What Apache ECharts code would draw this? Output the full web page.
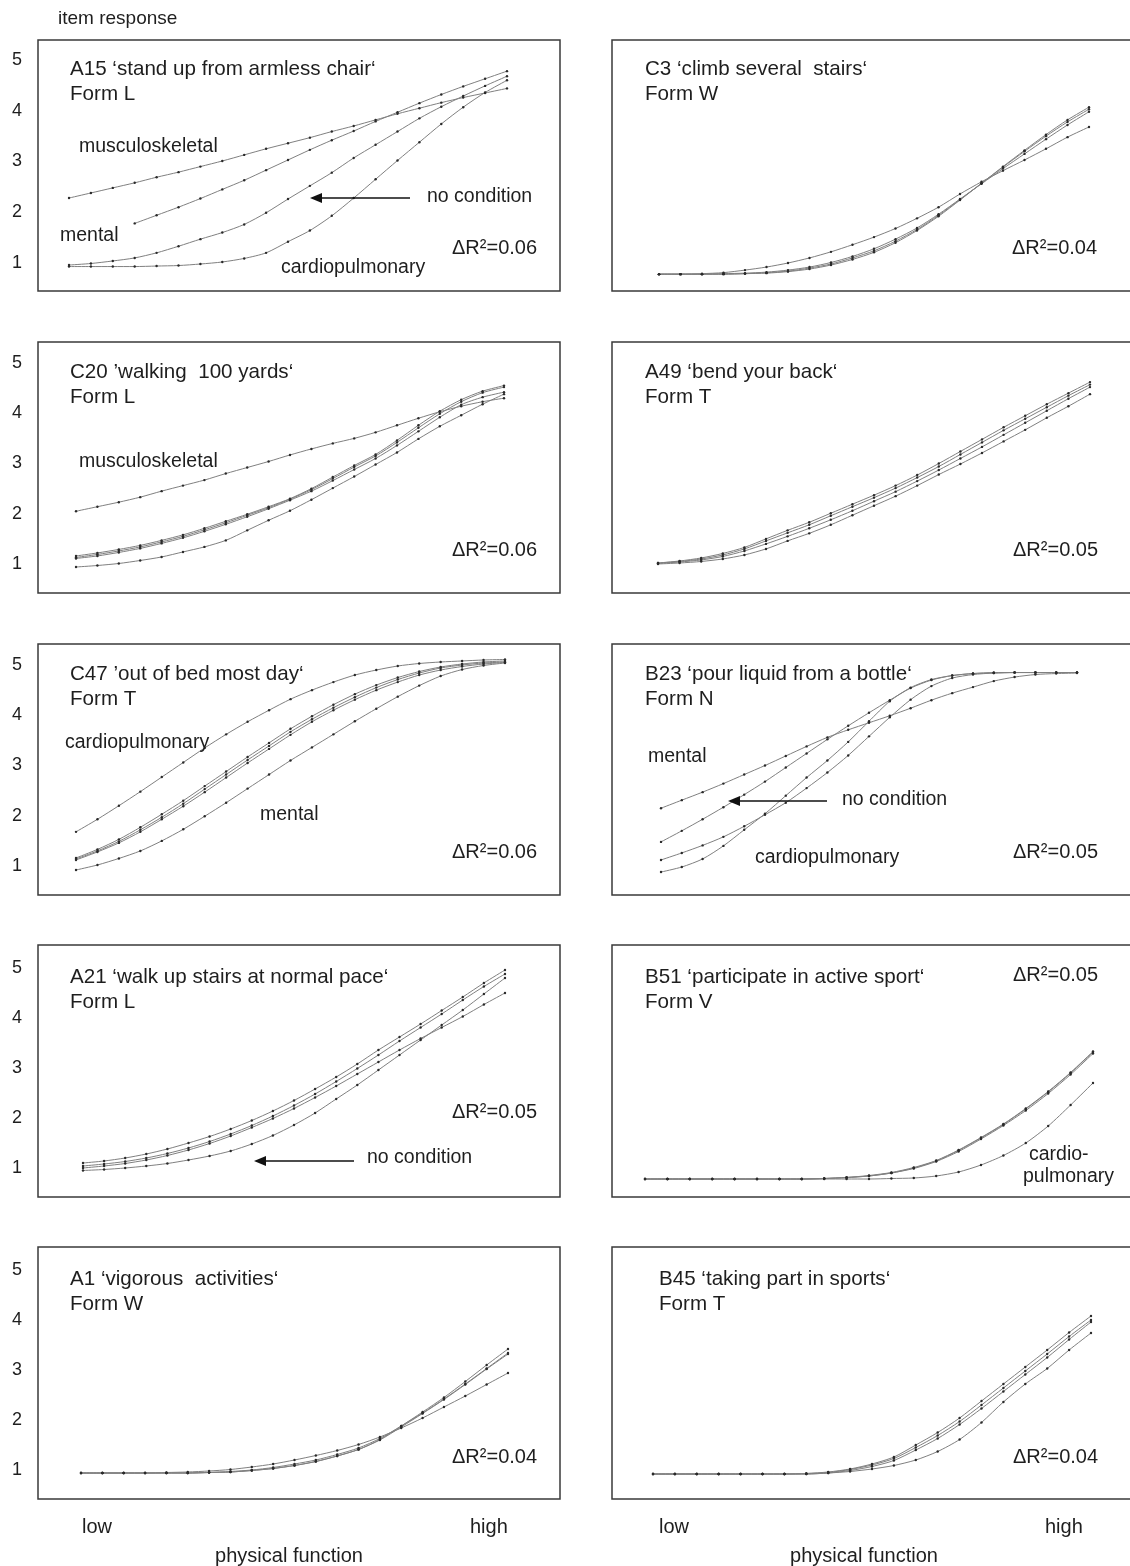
<!DOCTYPE html>
<html>
<head>
<meta charset="utf-8">
<script src="https://cdn.jsdelivr.net/npm/echarts@6/dist/echarts.min.js"></script>
<style>
html,body{margin:0;padding:0;background:#fff;}
#c{width:1130px;height:1566px;}
</style>
</head>
<body>
<div id="c"></div>
<script>
// ---------- DATA ----------
const X = [0,1,2,3,4,5,6,7,8,9,10,11,12,13,14,15,16,17,18,19,20];
const Y_TICKS = [1,2,3,4,5];
const X_LABELS = ["low","high"];
const X_TITLE = "physical function";
const Y_TITLE = "item response";

// A15 'stand up from armless chair' (Form L)
const A15_musculoskeletal = [2.28,2.38,2.48,2.58,2.69,2.79,2.90,3.01,3.13,3.25,3.36,3.47,3.59,3.70,3.82,3.94,4.05,4.16,4.26,4.35,4.44];
const A15_mental          = [null,null,null,1.78,1.94,2.10,2.27,2.45,2.63,2.83,3.03,3.23,3.42,3.60,3.79,3.97,4.15,4.32,4.48,4.63,4.78];
const A15_noCondition     = [0.96,0.99,1.04,1.10,1.20,1.33,1.47,1.60,1.76,1.99,2.26,2.52,2.78,3.07,3.33,3.59,3.85,4.08,4.29,4.49,4.68];
const A15_cardiopulmonary = [0.93,0.93,0.93,0.93,0.94,0.95,0.98,1.02,1.09,1.20,1.42,1.64,1.93,2.28,2.65,3.02,3.38,3.74,4.07,4.36,4.60];

// C3 'climb several stairs' (Form W)
const C3_a = [0.78,0.78,0.79,0.81,0.86,0.92,1.00,1.10,1.22,1.36,1.51,1.68,1.88,2.10,2.36,2.60,2.82,3.03,3.25,3.48,3.68];
const C3_b = [0.78,0.78,0.78,0.78,0.79,0.80,0.83,0.88,0.96,1.07,1.21,1.40,1.64,1.92,2.24,2.57,2.90,3.22,3.53,3.82,4.07];
const C3_c = [0.78,0.78,0.78,0.79,0.80,0.82,0.86,0.92,1.01,1.13,1.28,1.47,1.69,1.96,2.26,2.56,2.86,3.15,3.44,3.72,3.98];
const C3_d = [0.78,0.78,0.78,0.78,0.79,0.81,0.84,0.90,0.98,1.10,1.24,1.43,1.66,1.94,2.25,2.57,2.89,3.20,3.50,3.78,4.03];

// C20 'walking 100 yards' (Form L)
const C20_musculoskeletal = [2.05,2.14,2.23,2.33,2.45,2.56,2.67,2.80,2.92,3.04,3.17,3.29,3.40,3.50,3.62,3.76,3.90,4.03,4.14,4.23,4.30];
const C20_b1  = [1.16,1.22,1.29,1.37,1.47,1.58,1.71,1.85,1.99,2.14,2.30,2.50,2.73,2.96,3.18,3.46,3.76,4.04,4.27,4.44,4.55];
const C20_b2  = [1.13,1.19,1.26,1.34,1.44,1.55,1.68,1.82,1.97,2.12,2.29,2.48,2.70,2.93,3.15,3.42,3.71,3.99,4.23,4.41,4.52];
const C20_b3  = [1.11,1.16,1.23,1.31,1.41,1.52,1.65,1.79,1.94,2.10,2.27,2.45,2.66,2.88,3.10,3.36,3.64,3.92,4.17,4.32,4.42];
const C20_low = [0.94,0.97,1.01,1.07,1.14,1.24,1.34,1.47,1.67,1.87,2.06,2.28,2.51,2.74,2.98,3.22,3.49,3.74,3.96,4.18,4.38];

// A49 'bend your back' (Form T)
const A49_a = [1.02,1.06,1.12,1.21,1.33,1.50,1.67,1.83,2.01,2.19,2.37,2.56,2.77,3.00,3.24,3.48,3.72,3.95,4.18,4.40,4.62];
const A49_b = [1.02,1.05,1.10,1.18,1.30,1.46,1.62,1.78,1.96,2.14,2.32,2.51,2.72,2.94,3.18,3.42,3.66,3.89,4.12,4.35,4.57];
const A49_c = [1.01,1.04,1.08,1.15,1.26,1.40,1.55,1.71,1.88,2.06,2.25,2.44,2.65,2.87,3.10,3.33,3.57,3.81,4.05,4.29,4.52];
const A49_d = [1.00,1.02,1.05,1.10,1.18,1.30,1.46,1.61,1.78,1.97,2.16,2.35,2.56,2.78,2.99,3.21,3.44,3.67,3.91,4.14,4.38];

// C47 'out of bed most day' (Form T)
const C47_cardiopulmonary = [1.68,1.93,2.20,2.48,2.77,3.06,3.35,3.62,3.87,4.10,4.32,4.50,4.66,4.80,4.90,4.98,5.03,5.06,5.08,5.10,5.11];
const C47_b1     = [1.16,1.33,1.53,1.77,2.03,2.30,2.59,2.88,3.17,3.45,3.73,3.98,4.21,4.42,4.60,4.75,4.87,4.96,5.02,5.06,5.08];
const C47_b2     = [1.14,1.30,1.49,1.72,1.97,2.24,2.53,2.82,3.11,3.39,3.67,3.92,4.15,4.36,4.55,4.71,4.84,4.94,5.00,5.04,5.06];
const C47_b3     = [1.12,1.28,1.46,1.68,1.93,2.19,2.47,2.76,3.05,3.33,3.61,3.87,4.10,4.31,4.50,4.66,4.80,4.90,4.97,5.02,5.05];
const C47_mental = [0.92,1.02,1.15,1.30,1.50,1.73,1.99,2.26,2.54,2.82,3.10,3.36,3.62,3.88,4.13,4.37,4.59,4.78,4.91,4.99,5.04];

// B23 'pour liquid from a bottle' (Form N)
const B23_mental          = [2.15,2.31,2.47,2.64,2.82,3.00,3.19,3.38,3.56,3.71,3.85,3.99,4.14,4.30,4.44,4.56,4.68,4.76,4.81,4.83,4.84];
const B23_noCondition     = [1.48,1.70,1.93,2.17,2.42,2.68,2.96,3.24,3.52,3.79,4.05,4.30,4.54,4.70,4.79,4.83,4.85,4.85,4.85,4.85,4.85];
const B23_c               = [1.12,1.26,1.41,1.58,1.79,2.02,2.26,2.55,2.86,3.20,3.58,3.96,4.31,4.58,4.74,4.81,4.84,4.85,4.85,4.85,4.85];
const B23_cardiopulmonary = [0.88,0.98,1.14,1.40,1.72,2.04,2.40,2.76,3.10,3.47,3.88,4.28,4.55,4.71,4.79,4.83,4.84,4.85,4.85,4.85,4.85];

// A21 'walk up stairs at normal pace' (Form L)
const A21_t1 = [1.10,1.14,1.20,1.28,1.38,1.50,1.63,1.78,1.95,2.14,2.35,2.58,2.82,3.08,3.36,3.62,3.88,4.15,4.42,4.70,4.96];
const A21_t2 = [1.04,1.08,1.13,1.20,1.29,1.40,1.53,1.68,1.85,2.04,2.25,2.48,2.73,2.99,3.26,3.54,3.81,4.08,4.36,4.63,4.88];
const A21_t3 = [1.00,1.04,1.09,1.16,1.25,1.36,1.49,1.64,1.81,1.99,2.19,2.41,2.64,2.88,3.12,3.36,3.59,3.81,4.03,4.27,4.50];
const A21_noCondition = [0.95,0.97,1.00,1.04,1.09,1.16,1.24,1.34,1.48,1.65,1.86,2.10,2.38,2.66,2.96,3.26,3.56,3.86,4.16,4.48,4.80];

// B51 'participate in active sport' (Form V)
const B51_a = [0.78,0.78,0.78,0.78,0.78,0.78,0.78,0.78,0.79,0.81,0.84,0.90,1.00,1.14,1.35,1.60,1.87,2.18,2.52,2.90,3.32];
const B51_b = [0.78,0.78,0.78,0.78,0.78,0.78,0.78,0.78,0.79,0.81,0.84,0.90,0.99,1.13,1.33,1.58,1.85,2.15,2.49,2.87,3.29];
const B51_c = [0.78,0.78,0.78,0.78,0.78,0.78,0.78,0.78,0.79,0.81,0.85,0.91,1.01,1.15,1.36,1.61,1.88,2.19,2.53,2.91,3.33];
const B51_cardiopulmonary = [0.78,0.78,0.78,0.78,0.78,0.78,0.78,0.78,0.78,0.78,0.78,0.79,0.80,0.84,0.92,1.06,1.25,1.50,1.84,2.26,2.70];

// A1 'vigorous activities' (Form W)
const A1_early = [0.94,0.94,0.94,0.94,0.95,0.96,0.98,1.01,1.06,1.12,1.20,1.29,1.39,1.51,1.66,1.84,2.04,2.26,2.48,2.71,2.94];
const A1_l1    = [0.94,0.94,0.94,0.94,0.94,0.94,0.95,0.96,0.99,1.03,1.09,1.17,1.28,1.41,1.61,1.88,2.16,2.45,2.77,3.10,3.42];
const A1_l2    = [0.94,0.94,0.94,0.94,0.94,0.94,0.95,0.96,0.99,1.03,1.09,1.17,1.28,1.41,1.60,1.86,2.13,2.41,2.71,3.02,3.32];
const A1_l3    = [0.94,0.94,0.94,0.94,0.94,0.94,0.95,0.97,1.00,1.05,1.12,1.20,1.31,1.44,1.63,1.88,2.14,2.42,2.72,3.03,3.34];

// B45 'taking part in sports' (Form T)
const B45_a = [0.92,0.92,0.92,0.92,0.92,0.92,0.92,0.93,0.96,1.02,1.12,1.26,1.50,1.75,2.04,2.38,2.72,3.06,3.40,3.75,4.08];
const B45_b = [0.92,0.92,0.92,0.92,0.92,0.92,0.92,0.93,0.95,1.01,1.10,1.23,1.45,1.69,1.97,2.30,2.64,2.98,3.32,3.67,4.00];
const B45_c = [0.92,0.92,0.92,0.92,0.92,0.92,0.92,0.92,0.94,0.99,1.07,1.19,1.40,1.63,1.91,2.23,2.57,2.91,3.25,3.61,3.96];
const B45_d = [0.92,0.92,0.92,0.92,0.92,0.92,0.92,0.92,0.94,0.97,1.02,1.09,1.20,1.37,1.61,1.95,2.36,2.72,3.03,3.40,3.74];

const PANEL_TITLES = [
  "A15 \u2018stand up from armless chair\u2018",
  "C3 \u2018climb several  stairs\u2018",
  "C20 \u2019walking  100 yards\u2018",
  "A49 \u2018bend your back\u2018",
  "C47 \u2019out of bed most day\u2018",
  "B23 \u2018pour liquid from a bottle\u2018",
  "A21 \u2018walk up stairs at normal pace\u2018",
  "B51 \u2018participate in active sport\u2018",
  "A1 \u2018vigorous  activities\u2018",
  "B45 \u2018taking part in sports\u2018"
];
const PANEL_FORMS = ["Form L","Form W","Form L","Form T","Form T","Form N","Form L","Form V","Form W","Form T"];
const PANEL_DR = ["\u0394R\u00b2=0.06","\u0394R\u00b2=0.04","\u0394R\u00b2=0.06","\u0394R\u00b2=0.05","\u0394R\u00b2=0.06",
                  "\u0394R\u00b2=0.05","\u0394R\u00b2=0.05","\u0394R\u00b2=0.05","\u0394R\u00b2=0.04","\u0394R\u00b2=0.04"];
const PANEL_SERIES = [
  [A15_musculoskeletal, A15_mental, A15_noCondition, A15_cardiopulmonary],
  [C3_a, C3_b, C3_c, C3_d],
  [C20_musculoskeletal, C20_b1, C20_b2, C20_b3, C20_low],
  [A49_a, A49_b, A49_c, A49_d],
  [C47_cardiopulmonary, C47_b1, C47_b2, C47_b3, C47_mental],
  [B23_mental, B23_noCondition, B23_c, B23_cardiopulmonary],
  [A21_t1, A21_t2, A21_t3, A21_noCondition],
  [B51_a, B51_b, B51_c, B51_cardiopulmonary],
  [A1_early, A1_l1, A1_l2, A1_l3],
  [B45_a, B45_b, B45_c, B45_d]
];

// ---------- LAYOUT ----------
const FONT = "'Liberation Sans', Arial, sans-serif";
const TXT = '#1e1e1e';
const ROW_Y   = [[60,263],[363,564],[665,866],[968,1168],[1270,1470]];
const ROW_BOX = [[40,291],[342,593],[644,895],[945,1197],[1247,1499]];
const COL_BOX = [[38,560],[612,1150]];
const PANEL_XPX = [[69,507],[659,1089],[76,504],[658,1090],[76,505],[661,1077],[83,505],[645,1093],[81,508],[653,1091]];
const TITLE_X = [70,645,70,645,70,645,70,645,70,659];

// annotation labels: [text, x(left), y(center)]
const NOTES = [
  ["musculoskeletal",79,147],["mental",60,236],["no condition",427,197],["cardiopulmonary",281,268],
  ["musculoskeletal",79,462],
  ["cardiopulmonary",65,743],["mental",260,815],
  ["mental",648,757],["no condition",842,800],["cardiopulmonary",755,858],
  ["no condition",367,1158],
  ["cardio-",1029,1155],["pulmonary",1023,1177]
];
// arrows: [xFrom, xTip, y]
const ARROWS = [[410,310,198],[827,728,801],[354,254,1161]];
// delta R^2 positions
const DR_POS = [[452,248],[1012,248],[452,550],[1013,550],[452,852],[1013,852],[452,1112],[1013,975],[452,1457],[1013,1457]];

const chart = echarts.init(document.getElementById('c'), null, {renderer:'canvas'});
const grids=[], xAxes=[], yAxes=[], series=[], graphics=[];

for (let p=0; p<10; p++) {
  const r = Math.floor(p/2), c = p%2;
  const xp = PANEL_XPX[p];
  grids.push({left: xp[0], width: xp[1]-xp[0], top: ROW_Y[r][0], height: ROW_Y[r][1]-ROW_Y[r][0], containLabel:false});
  xAxes.push({gridIndex:p, type:'value', min:X[0], max:X[X.length-1], show:false});
  yAxes.push({gridIndex:p, type:'value', min:Y_TICKS[0], max:Y_TICKS[Y_TICKS.length-1], interval:1,
    axisLine:{show:false}, axisTick:{show:false}, splitLine:{show:false},
    axisLabel:{show:c===0, margin: xp[0]-22, fontSize:18, color:TXT, fontFamily:FONT}});
  PANEL_SERIES[p].forEach(arr => {
    series.push({
      type:'line', xAxisIndex:p, yAxisIndex:p, clip:false, silent:true,
      data: X.map((x,i)=>[x, arr[i]]).filter(d=>d[1]!==null),
      smooth:0.25,
      symbol:'circle', symbolSize:2.4, showSymbol:true,
      lineStyle:{color:'#808080', width:1},
      itemStyle:{color:'#2a2a2a'},
      z:3
    });
  });
  // box
  graphics.push({type:'rect', shape:{x:COL_BOX[c][0], y:ROW_BOX[r][0], width:COL_BOX[c][1]-COL_BOX[c][0], height:ROW_BOX[r][1]-ROW_BOX[r][0]},
    style:{fill:null, stroke:'#3a3a3a', lineWidth:1.5}, silent:true, z:1});
  // titles
  const ty = ROW_Y[r][0];
  graphics.push({type:'text', x:TITLE_X[p], y:ty+9, style:{text:PANEL_TITLES[p], font:'20.6px '+FONT, fill:TXT, textVerticalAlign:'middle'}, z:5});
  graphics.push({type:'text', x:TITLE_X[p], y:ty+34, style:{text:PANEL_FORMS[p], font:'20.6px '+FONT, fill:TXT, textVerticalAlign:'middle'}, z:5});
  graphics.push({type:'text', x:DR_POS[p][0], y:DR_POS[p][1], style:{text:PANEL_DR[p], font:'20px '+FONT, fill:TXT, textVerticalAlign:'middle'}, z:5});
}

NOTES.forEach(n => graphics.push({type:'text', x:n[1], y:n[2], style:{text:n[0], font:'19.5px '+FONT, fill:TXT, textVerticalAlign:'middle'}, z:5}));
ARROWS.forEach(a => {
  graphics.push({type:'line', shape:{x1:a[0], y1:a[2], x2:a[1]+10, y2:a[2]}, style:{stroke:'#111', lineWidth:1.5}, z:5});
  graphics.push({type:'polygon', shape:{points:[[a[1],a[2]],[a[1]+12,a[2]-5],[a[1]+12,a[2]+5]]}, style:{fill:'#111'}, z:5});
});

// axis titles / labels
graphics.push({type:'text', x:58, y:19, style:{text:Y_TITLE, font:'19px '+FONT, fill:TXT, textVerticalAlign:'middle'}});
[[82,470,289],[659,1045,864]].forEach(a => {
  graphics.push({type:'text', x:a[0], y:1527, style:{text:X_LABELS[0], font:'20px '+FONT, fill:TXT, textVerticalAlign:'middle'}});
  graphics.push({type:'text', x:a[1], y:1527, style:{text:X_LABELS[1], font:'20px '+FONT, fill:TXT, textVerticalAlign:'middle'}});
  graphics.push({type:'text', x:a[2], y:1556, style:{text:X_TITLE, font:'20px '+FONT, fill:TXT, textAlign:'center', textVerticalAlign:'middle'}});
});

chart.setOption({
  animation:false,
  backgroundColor:'#fff',
  grid:grids, xAxis:xAxes, yAxis:yAxes, series:series,
  graphic:{elements:graphics}
});
</script>
</body>
</html>
